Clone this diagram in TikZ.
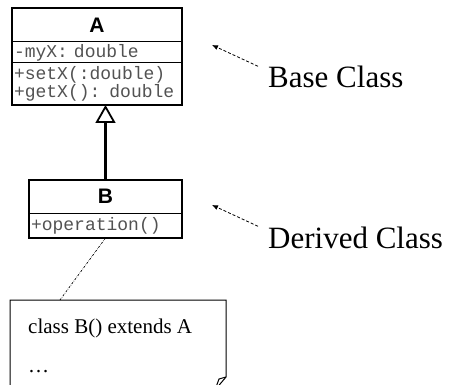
\documentclass[tikz,border=0pt]{standalone}
\usepackage{fontspec}
\setmainfont{Liberation Serif}
\setsansfont{Liberation Sans}
\setmonofont{Liberation Mono}
\usepackage{xcolor}
\usepackage{tikz}
\usetikzlibrary{positioning,arrows.meta}
\tikzset{
  compart/.style={draw, line width=1pt, inner sep=2pt, outer sep=0pt},
  classname/.style={compart, font=\fontsize{21}{21}\sffamily\bfseries\selectfont},
  members/.style={compart, font=\ttfamily\fontsize{18}{16}\selectfont, text=black!68, align=left},
  classframe/.style={line width=2.4pt},
  inherit/.style={line width=2.2pt, -{Triangle[open, length=18pt, width=20pt, line width=1.8pt]}},
  noteline/.style={line width=.7pt, dash pattern=on 2pt off 1.2pt on .6pt off 1.2pt},
  pointer/.style={line width=.8pt, dash pattern=on 3pt off 2pt, -{Latex[length=6pt, width=5pt]}},
  labeltext/.style={inner sep=0pt, anchor=base west, font=\fontsize{31}{31}\selectfont},
  notetext/.style={inner sep=0pt, anchor=base west, font=\fontsize{21}{21}\selectfont}
}
\begin{document}
\begin{tikzpicture}[x=1pt, y=-1pt]
					\useasboundingbox (0, 0) rectangle (450, 385);
					\node[classname, minimum width=170pt, minimum height=34pt] (Aname) at (97, 25) {A};
					\node[members, below=0pt of Aname, minimum height=21pt, text width=166pt] (Aattr) {-myX: double};
					\node[members, below=0pt of Aattr, minimum height=42pt, text width=166pt] (Aops) {+setX(:double)\\+getX(): double};
					\draw[classframe] (Aname.north west) rectangle (Aops.south east);
					\node[classname, minimum width=153pt, minimum height=33pt] (Bname) at (105.5, 196.5) {B};
					\node[members, below=0pt of Bname, minimum height=25pt, text width=149pt] (Bops) {+operation()};
					\draw[classframe] (Bname.north west) rectangle (Bops.south east);
					\draw[inherit] (Bname.north) -- (Bname.north |- Aops.south);
					\draw[line width=1pt] (10, 300) -- (226, 300) -- (226, 377) -- (215, 390) -- (10, 390) -- cycle;
					\draw[line width=1pt] (226, 377) -- (219, 379) -- (215, 390);
					\coordinate (noteTop) at (60, 300);
					\node[notetext] (noteCode) at (28, 333) {class B() extends A};
					\node[notetext] (noteDots) at (28, 372) {…};
					\draw[noteline] (Bops.south) -- (noteTop);
					\node[labeltext] (baseLbl) at (268, 88) {Base Class};
					\node[labeltext] (derivedLbl) at (268, 248) {Derived Class};
					\coordinate (baseTip) at (212, 45);
					\coordinate (derivedTip) at (212, 205);
					\draw[pointer] ([xshift=-10pt]baseLbl.north west) -- (baseTip);
					\draw[pointer] ([xshift=-10pt]derivedLbl.north west) -- (derivedTip);
				\end{tikzpicture}
\end{document}
